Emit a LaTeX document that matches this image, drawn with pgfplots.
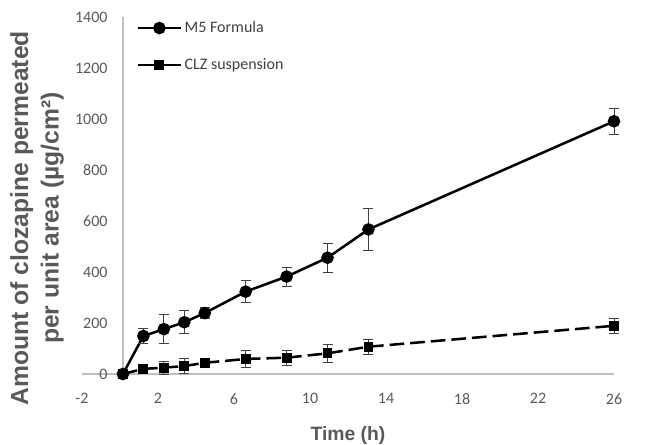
\documentclass[border=0pt]{standalone}
\usepackage{pgfplots}
\pgfplotsset{compat=1.18}
\usepackage{fontspec}
\setmainfont{Carlito}
\newfontfamily\arialb{Liberation Sans}[BoldFont={Liberation Sans Bold}]
\definecolor{txtgray}{HTML}{595959}
\definecolor{leggray}{HTML}{404040}
\definecolor{axgray}{HTML}{BFBFBF}
\definecolor{errgray}{HTML}{404040}

\pgfplotstableread{
t   y    e
0   0    0
1   149  29
2   176  57
3   203  46
4   239  23
6   323  43
8   382  37
10  456  57
12  567  82
24  991  51
}\mfive

\pgfplotstableread{
t   y    e
0   0    0
1   20   10
2   25   25
3   31   28
4   44   16
6   59   33
8   64   29
10  81   34
12  107  29
24  189  29
}\clz

\begin{document}
\begin{tikzpicture}
\begin{axis}[
  scale only axis, width=399pt, height=267.75pt,
  xmin=-2, xmax=24, ymin=0, ymax=1400,
  axis lines=middle,
  axis line style={axgray, line width=1.1pt, -},
  xtick={-2,1.7142857,5.4285714,9.1428571,12.8571429,16.5714286,20.2857143,24},
  xticklabels={-2,2,6,10,14,18,22,26},
  ytick={0,200,...,1400},
  hide obscured x ticks=false, hide obscured y ticks=false,
  major tick length=0pt,
  /pgf/number format/assume math mode=true,
  /pgf/number format/1000 sep={},
  ticklabel style={font=\fontsize{12}{14}\selectfont, text=txtgray},
  xticklabel style={yshift=-11pt},
  yticklabel style={xshift=-8pt},
  xlabel={Time (h)},
  ylabel={Amount of clozapine permeated\\per unit area (µg/cm²)},
  xlabel style={at={(rel axis cs:0.5,0)}, anchor=base, yshift=-49.5pt,
    font=\arialb\bfseries\fontsize{14.5}{17}\selectfont, text=txtgray},
  ylabel style={at={(rel axis cs:0,0.5)}, rotate=90, anchor=south, align=center,
    xshift=-17pt, yshift=10pt,
    font=\arialb\bfseries\fontsize{18.5}{23}\selectfont, text=txtgray},
  clip=false,
  legend style={at={(rel axis cs:0.095,1.003)}, anchor=north west, draw=none, fill=none,
    font=\fontsize{12}{14}\selectfont, text=leggray, row sep=14pt,
    /tikz/every even column/.append style={column sep=6pt}},
  legend cell align=left,
  legend image code/.code={\draw[mark repeat=2,mark phase=2,#1,solid] plot coordinates {(0pt,0pt) (16pt,0pt) (32pt,0pt)};},
  error bars/error bar style={line width=0.75pt, errgray, solid},
  error bars/error mark options={rotate=90, mark size=3.75pt, line width=0.75pt, errgray, solid},
]
\addplot[black, line width=1.9pt, mark=*, mark size=3.75pt,
  error bars/.cd, y dir=both, y explicit]
  table[x=t, y=y, y error=e] {\mfive};
\addlegendentry{M5 Formula}
\addplot[black, line width=1.9pt, dash pattern=on 11pt off 4.5pt, mark=square*, mark size=2.75pt, mark options={solid},
  error bars/.cd, y dir=both, y explicit]
  table[x=t, y=y, y error=e] {\clz};
\addlegendentry{CLZ suspension}
\end{axis}
\pgfresetboundingbox
\path (-61.5pt,-53.25pt) rectangle (438pt,280.5pt);
\end{tikzpicture}
\end{document}
